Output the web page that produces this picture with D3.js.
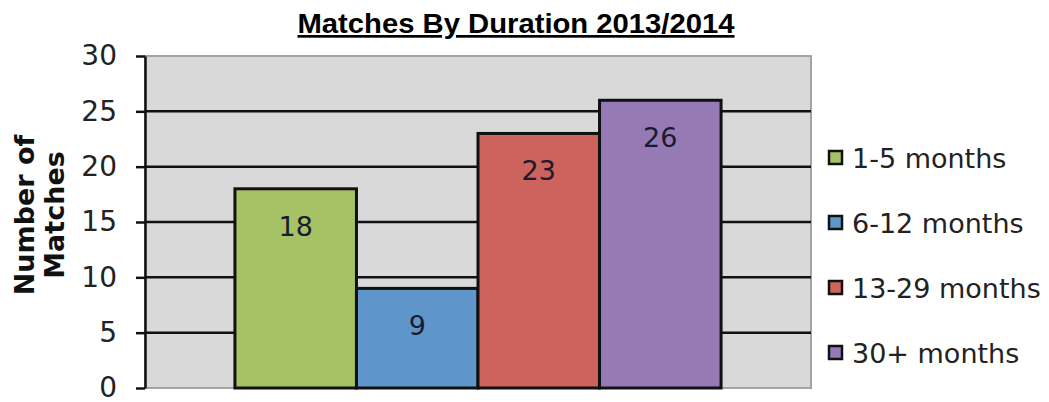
<!DOCTYPE html>
<html>
<head>
<meta charset="utf-8">
<script src="https://cdn.jsdelivr.net/npm/d3@7"></script>
<style>
  body { margin: 0; background: #fff; }
  svg { display: block; }
</style>
</head>
<body>
<svg id="chart" width="1049" height="402"></svg>
<script>
(function(){
  // chart data
  var categories = ['1-5 months', '6-12 months', '13-29 months', '30+ months']
  var values = [18, 9, 23, 26]
  var colors = ['#a5c265', '#5e96cb', '#cc635c', '#957ab5']
  var yTicks = [0, 5, 10, 15, 20, 25, 30]
  var title = 'Matches By Duration 2013/2014'
  var yTitle = ['Number of', 'Matches']

  var svg = d3.select('#chart'),
      width = +svg.attr('width'),
      height = +svg.attr('height')

  var plot = {left: 145, right: 811, top: 56, bottom: 388}

  var y = d3.scaleLinear()
    .domain([0, 30])
    .range([plot.bottom, plot.top])

  // one group holding the four series, no gaps between them
  var x0 = d3.scaleBand()
    .domain(['all'])
    .range([plot.left, plot.right])
    .paddingInner(0)
    .paddingOuter(0.185)

  var x1 = d3.scaleBand()
    .domain(categories)
    .range([x0('all'), x0('all') + x0.bandwidth()])

  // plot area background
  svg.append('rect')
    .attr('x', plot.left).attr('y', plot.top)
    .attr('width', plot.right - plot.left)
    .attr('height', plot.bottom - plot.top)
    .attr('fill', '#d9d9d9')
    .attr('stroke', '#a3a3a3')
    .attr('stroke-width', 2)

  // gridlines
  svg.append('g')
    .selectAll('line')
    .data(yTicks.filter(function(t) { return t > 0 && t < 30 }))
    .enter().append('line')
    .attr('x1', plot.left).attr('x2', plot.right)
    .attr('y1', function(d) { return y(d) })
    .attr('y2', function(d) { return y(d) })
    .attr('stroke', '#111')
    .attr('stroke-width', 2.5)

  // bars
  svg.append('g')
    .selectAll('rect')
    .data(values)
    .enter().append('rect')
    .attr('x', function(d, i) { return x1(categories[i]) })
    .attr('y', function(d) { return y(d) })
    .attr('width', x1.bandwidth())
    .attr('height', function(d) { return y(0) - y(d) })
    .attr('fill', function(d, i) { return colors[i] })
    .attr('stroke', '#111')
    .attr('stroke-width', 3)

  // value labels inside the bars
  svg.append('g')
    .selectAll('text')
    .data(values)
    .enter().append('text')
    .text(function(d) { return d })
    .attr('x', function(d, i) { return x1(categories[i]) + x1.bandwidth() / 2 })
    .attr('y', function(d) { return y(d) + 37 })
    .attr('dy', '0.36em')
    .attr('text-anchor', 'middle')
    .attr('font-family', 'DejaVu Sans, Verdana, sans-serif')
    .attr('font-size', '27px')
    .attr('fill', '#1b1b30')

  // y axis
  var yAxis = d3.axisLeft(y)
    .tickValues(yTicks)
    .tickSizeInner(9)
    .tickSizeOuter(0)
    .tickPadding(19)

  var ax = svg.append('g')
    .attr('transform', 'translate(' + plot.left + ',0)')
    .call(yAxis)
  ax.select('.domain').attr('stroke', '#111').attr('stroke-width', 2.5)
  ax.selectAll('.tick line').attr('stroke', '#111').attr('stroke-width', 2.5)
  ax.selectAll('.tick text')
    .attr('font-family', 'DejaVu Sans, Verdana, sans-serif')
    .attr('font-size', '28px')
    .attr('fill', '#222')

  // y axis title, two lines rotated
  svg.append('text')
    .attr('transform', 'translate(39,215) rotate(-90)')
    .attr('text-anchor', 'middle')
    .attr('font-family', 'DejaVu Sans, Verdana, sans-serif')
    .attr('font-weight', 'bold')
    .attr('font-size', '27px')
    .attr('fill', '#111')
    .selectAll('tspan')
    .data(yTitle)
    .enter().append('tspan')
    .attr('x', 0)
    .attr('y', function(d, i) { return -15 + i * 30 })
    .attr('dy', '0.36em')
    .text(function(d) { return d })

  // title
  svg.append('text')
    .attr('x', 516)
    .attr('y', 33)
    .attr('text-anchor', 'middle')
    .attr('font-family', "'Liberation Sans', Arial, sans-serif")
    .attr('font-weight', 'bold')
    .attr('font-size', '27px')
    .attr('textLength', 437)
    .attr('lengthAdjust', 'spacingAndGlyphs')
    .attr('text-decoration', 'underline')
    .attr('fill', '#000')
    .text(title)

  // legend
  var legend = svg.append('g')
    .selectAll('g')
    .data(categories)
    .enter().append('g')
    .attr('transform', function(d, i) { return 'translate(828,' + (158 + i * 65) + ')' })

  legend.append('rect')
    .attr('x', 1).attr('y', -7)
    .attr('width', 13).attr('height', 13)
    .attr('fill', function(d, i) { return colors[i] })
    .attr('stroke', '#111')
    .attr('stroke-width', 2.5)

  legend.append('text')
    .attr('x', 24)
    .attr('y', 0)
    .attr('dy', '0.36em')
    .attr('font-family', 'DejaVu Sans, Verdana, sans-serif')
    .attr('font-size', '27px')
    .attr('fill', '#222')
    .text(function(d) { return d })
})()
</script>
</body>
</html>
